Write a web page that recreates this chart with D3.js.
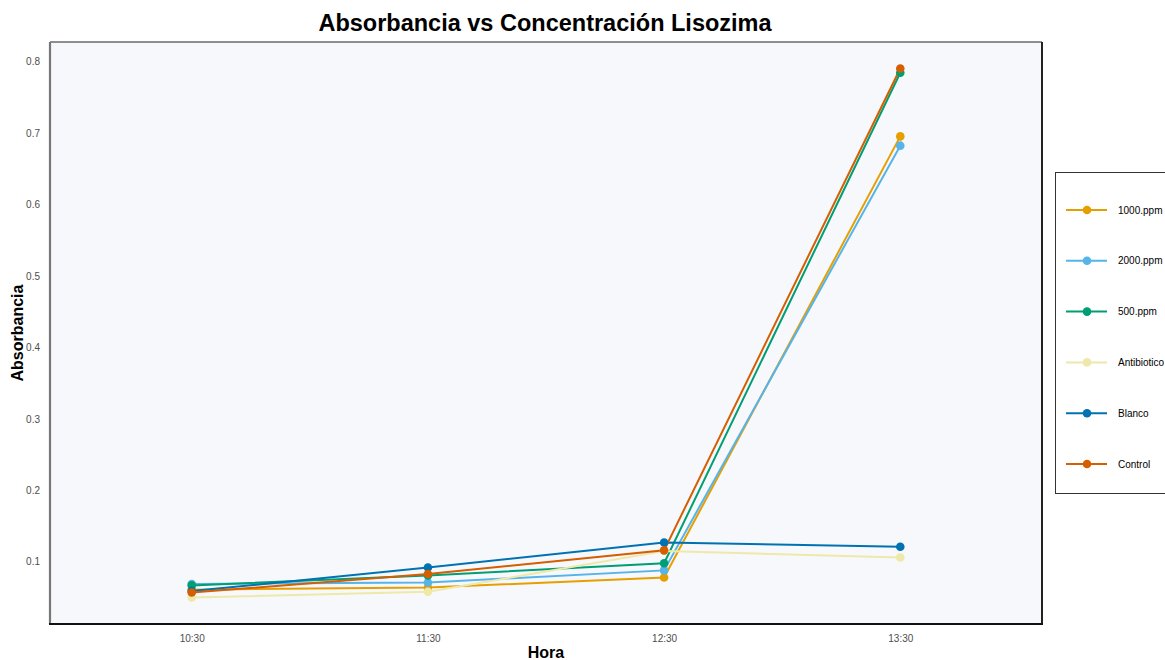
<!DOCTYPE html>
<html><head><meta charset="utf-8">
<script src="https://cdn.jsdelivr.net/npm/d3@7"></script>
<style>body{margin:0;background:#fff;}svg{display:block;font-family:"Liberation Sans",Arial,sans-serif;}</style>
</head><body>
<svg id="chart" width="1165" height="660"></svg>
<script>
const horas = ["10:30", "11:30", "12:30", "13:30"];
const seriesNames = ["1000.ppm", "2000.ppm", "500.ppm", "Antibiotico", "Blanco", "Control"];
const seriesColors = ["#E69F00", "#56B4E9", "#009E73", "#EEE8AA", "#0072B2", "#D55E00"];
const v1000 = [0.061, 0.064, 0.078, 0.695];
const v2000 = [0.069, 0.071, 0.088, 0.682];
const v500 = [0.067, 0.081, 0.098, 0.784];
const vAntibiotico = [0.050, 0.058, 0.115, 0.106];
const vBlanco = [0.059, 0.092, 0.127, 0.121];
const vControl = [0.057, 0.083, 0.116, 0.790];
const yTicks = [0.1, 0.2, 0.3, 0.4, 0.5, 0.6, 0.7, 0.8];
const seriesValues = [v1000, v2000, v500, vAntibiotico, vBlanco, vControl];

const svg = d3.select("#chart");
const P = {left: 50, right: 1042, top: 42, bottom: 624};
const x = d3.scalePoint().domain(horas).range([P.left, P.right]).padding(0.6);
const y = d3.scaleLinear().domain([0.013, 0.827]).range([P.bottom, P.top]);

svg.append("rect").attr("x", P.left).attr("y", P.top).attr("width", P.right - P.left).attr("height", P.bottom - P.top).attr("fill", "#F7F8FC");

// title
svg.append("text").attr("x", 545).attr("y", 31).attr("text-anchor", "middle").attr("font-size", 23.5).attr("font-weight", "bold").attr("fill", "#000").text("Absorbancia vs Concentración Lisozima");

// y axis ticks
const ya = svg.append("g").attr("transform", `translate(${P.left},0)`).call(d3.axisLeft(y).tickValues(yTicks).tickSize(0).tickPadding(10).tickFormat(d3.format(".1f")));
ya.select(".domain").remove();
ya.selectAll("text").attr("font-size", 10).attr("fill", "#4d4d4d").attr("font-family", "Liberation Sans, Arial, sans-serif");

const xa = svg.append("g").attr("transform", `translate(0,${P.bottom})`).call(d3.axisBottom(x).tickSize(0).tickPadding(11));
xa.select(".domain").remove();
xa.selectAll("text").attr("font-size", 10).attr("fill", "#4d4d4d").attr("font-family", "Liberation Sans, Arial, sans-serif");

svg.append("text").attr("x", 546).attr("y", 658).attr("text-anchor", "middle").attr("font-size", 16).attr("font-weight", "bold").text("Hora");
svg.append("text").attr("transform", "translate(23,333) rotate(-90)").attr("text-anchor", "middle").attr("font-size", 16).attr("font-weight", "bold").text("Absorbancia");

// lines
const line = d3.line().x((d, i) => x(horas[i])).y(d => y(d));
seriesValues.forEach((vals, k) => {
  svg.append("path").datum(vals).attr("d", line).attr("fill", "none").attr("stroke", seriesColors[k]).attr("stroke-width", 2);
});
seriesValues.forEach((vals, k) => {
  svg.append("g").selectAll("circle").data(vals).join("circle")
    .attr("cx", (d, i) => x(horas[i])).attr("cy", d => y(d)).attr("r", 4.3).attr("fill", seriesColors[k]);
});

// panel borders
svg.append("line").attr("x1", P.left).attr("x2", P.right).attr("y1", P.top).attr("y2", P.top).attr("stroke", "#222").attr("stroke-width", 1.2);
svg.append("line").attr("x1", P.right).attr("x2", P.right).attr("y1", P.top).attr("y2", P.bottom).attr("stroke", "#222").attr("stroke-width", 2);
svg.append("line").attr("x1", P.left).attr("x2", P.left).attr("y1", P.top).attr("y2", P.bottom).attr("stroke", "#777").attr("stroke-width", 2.2);
svg.append("line").attr("x1", P.left - 1).attr("x2", P.right + 1).attr("y1", P.bottom).attr("y2", P.bottom).attr("stroke", "#111").attr("stroke-width", 2.2);

// legend
const lg = svg.append("g");
lg.append("rect").attr("x", 1055.5).attr("y", 172.5).attr("width", 120).attr("height", 321).attr("fill", "#fff").attr("stroke", "#333").attr("stroke-width", 1);
const ly = d3.scalePoint().domain(seriesNames).range([210, 464]);
seriesNames.forEach((n, k) => {
  const yy = ly(n);
  lg.append("line").attr("x1", 1066).attr("x2", 1107).attr("y1", yy).attr("y2", yy).attr("stroke", seriesColors[k]).attr("stroke-width", 2);
  lg.append("circle").attr("cx", 1087).attr("cy", yy).attr("r", 4.3).attr("fill", seriesColors[k]);
  lg.append("text").attr("x", 1118).attr("y", yy + 3.5).attr("font-size", 10).attr("fill", "#000").text(n);
});
</script>
</body></html>
